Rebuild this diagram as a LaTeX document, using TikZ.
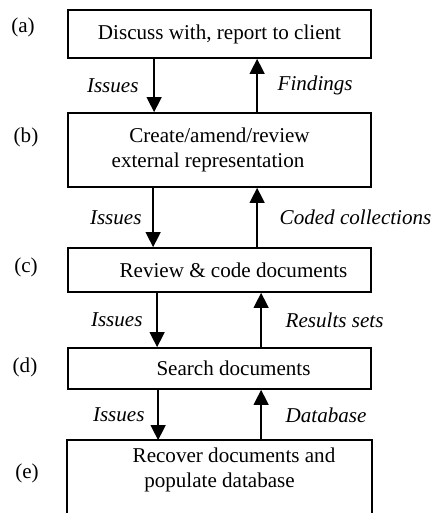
\documentclass[tikz,border=0pt]{standalone}
\usepackage{fontspec}
\setmainfont{Liberation Serif}
\usetikzlibrary{positioning}
\usetikzlibrary{arrows.meta}
\usetikzlibrary{calc}

\begin{document}
\begin{tikzpicture}
	\useasboundingbox (0,0) rectangle (8.66,-10.26);

	\begin{scope}[every node/.style={draw, line width=1pt, minimum width=6.06cm, align=center, font=\fontsize{12}{14.2}\selectfont}]
	    \node[minimum height=0.96cm] (A) at (4.39,-0.68) {Discuss with, report to client};
	    \node[minimum height=1.48cm] (B) at (4.39,-3.0) {Create/amend/review\\external representation\hspace*{0.46cm}};
	    \node[minimum height=0.88cm] (C) at (4.39,-5.4) {\hspace*{0.56cm}Review \& code documents};
	    \node[minimum height=0.82cm] (D) at (4.39,-7.37) {\hspace*{0.56cm}Search documents};
	    \node[draw=none, minimum height=1.16cm] (E) at (4.39,-9.4) {\hspace*{0.58cm}Recover documents and\\populate database};
	\end{scope}
	\draw[line width=1pt] ($(E.south west)+(0,-0.3)$) -- (E.north west) -- (E.north east) -- ($(E.south east)+(0,-0.3)$);

	\begin{scope}[every node/.style={font=\fontsize{12}{14.2}\selectfont}]
	    \node (La) at (0.46,-0.54) {(a)};
	    \node (Lb) at (0.52,-2.74) {(b)};
	    \node (Lc) at (0.52,-5.34) {(c)};
	    \node (Ld) at (0.5,-7.34) {(d)};
	    \node (Le) at (0.54,-9.46) {(e)};
	\end{scope}

	\begin{scope}[>={Triangle[length=0.3cm,width=0.3cm]},
	              every edge/.style={draw=black, line width=0.8pt},
	              every node/.style={font=\itshape\fontsize{12}{14.2}\selectfont}]
    	\path [->] ([xshift=1.74cm]A.south west) edge node[left=0.18cm] {Issues} ([xshift=1.74cm]B.north west);
    	\path [->] ([xshift=3.8cm]B.north west) edge node[right=0.28cm] {Findings} ([xshift=3.8cm]A.south west);
    	\path [->] ([xshift=1.72cm]B.south west) edge node[left=0.1cm] {Issues} ([xshift=1.72cm]C.north west);
    	\path [->] ([xshift=3.8cm]C.north west) edge node[right=0.32cm] {Coded collections} ([xshift=3.8cm]B.south west);
    	\path [->] ([xshift=1.8cm]C.south west) edge node[left=0.16cm] {Issues} ([xshift=1.8cm]D.north west);
    	\path [->] ([xshift=3.88cm]D.north west) edge node[right=0.36cm] {Results sets} ([xshift=3.88cm]C.south west);
    	\path [->] ([xshift=1.82cm]D.south west) edge node[left=0.14cm] {Issues} ([xshift=1.82cm]E.north west);
    	\path [->] ([xshift=3.88cm]E.north west) edge node[right=0.36cm] {Database} ([xshift=3.88cm]D.south west);
	\end{scope}
\end{tikzpicture}
\end{document}
